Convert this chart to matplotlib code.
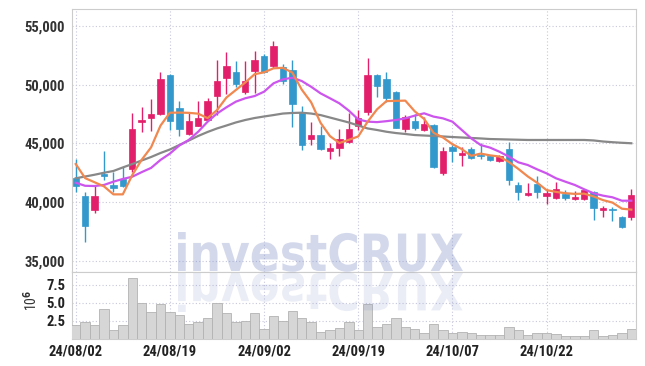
import numpy as np
import matplotlib
matplotlib.use('Agg')
import matplotlib.pyplot as plt
from matplotlib.textpath import TextPath
from matplotlib.patches import PathPatch
from matplotlib.font_manager import FontProperties, fontManager
from matplotlib.transforms import Affine2D, IdentityTransform

# daily candles, 24/08/02 .. 24/11/05 (60 trading days)
opens = [42100, 40500, 39300, 42400, 41500, 42000, 42800, 46850, 47200, 47500,
         50800, 48000, 45800, 46500, 47000, 49050, 50600, 51100, 49400, 51200,
         52450, 51600, 51500, 51250, 47700, 45400, 45700, 44400, 44650, 45150,
         46500, 47700, 50850, 50500, 49400, 46200, 46900, 46150, 46550, 42500,
         44700, 44000, 44500, 44000, 43950, 43500, 44550, 41450, 40650, 41550,
         40550, 40400, 40700, 40300, 40300, 40850, 39300, 39450, 38700, 38700]
closes = [41400, 38000, 40500, 42200, 41250, 41400, 46200, 47000, 47500, 50500,
          46900, 46250, 46900, 47150, 48600, 50300, 51600, 50100, 50350, 52150,
          51100, 53300, 50300, 48350, 44900, 45700, 44550, 44650, 45400, 46250,
          47150, 50850, 49900, 48900, 46350, 47250, 46300, 46650, 43000, 44350,
          44400, 44200, 43800, 43950, 43600, 43900, 41850, 40900, 40750, 40900,
          40750, 41100, 40350, 40450, 41000, 39550, 39550, 39300, 37850, 40600]
highs = [43700, 40900, 41500, 44400, 42600, 43000, 47600, 48100, 48800, 51100,
         50900, 48650, 47600, 48650, 48850, 52100, 52750, 52000, 52000, 52900,
         52600, 53750, 51800, 52150, 48200, 46800, 46450, 45000, 46200, 47600,
         47850, 52250, 50900, 51050, 49500, 47400, 47500, 47250, 46650, 44700,
         44900, 44700, 44700, 45000, 44000, 44000, 45100, 41750, 41600, 42250,
         41150, 41750, 41000, 40950, 41050, 40950, 39700, 39600, 38800, 41150]
lows = [40900, 36600, 39100, 41900, 40900, 41300, 42600, 46000, 46100, 47450,
        46150, 45600, 45700, 46450, 46950, 47400, 49200, 49800, 49250, 49300,
        51000, 51450, 50100, 46400, 44450, 44850, 44450, 43650, 43950, 45000,
        46150, 47400, 49000, 48550, 46300, 46000, 46150, 46100, 42950, 42300,
        43450, 43100, 43650, 43700, 43500, 43450, 41450, 40200, 40500, 40400,
        39850, 40250, 40150, 40150, 40150, 38500, 38700, 38400, 37800, 38500]
# volume in millions
volume = [2.0, 2.3, 2.0, 4.2, 1.3, 2.0, 8.4, 5.0, 3.7, 4.8,
          3.7, 3.3, 2.1, 2.4, 2.9, 5.0, 3.6, 2.4, 2.5, 3.6,
          1.4, 3.2, 2.5, 3.9, 2.9, 2.3, 1.0, 1.3, 1.5, 2.3,
          1.3, 4.8, 1.6, 2.1, 2.9, 1.7, 1.4, 0.8, 2.1, 1.2,
          0.9, 1.0, 0.8, 0.6, 0.6, 0.6, 1.7, 1.2, 0.6, 0.9,
          0.8, 0.7, 0.4, 0.4, 0.4, 1.3, 0.4, 0.6, 0.8, 1.4]
# moving averages as drawn
ma5 = [43250, 42050, 41700, 41350, 40670, 40670, 42310, 43610, 44670, 46520,
       47620, 47630, 47610, 47540, 47160, 47840, 48910, 49550, 50190, 50900,
       51060, 51400, 51440, 51040, 49590, 48510, 46760, 45630, 45040, 45310,
       45600, 46860, 47910, 48610, 48630, 48650, 47740, 47090, 45910, 45510,
       44940, 44520, 43950, 44140, 43990, 43890, 43420, 42840, 42200, 41660,
       41030, 40880, 40770, 40710, 40730, 40490, 40180, 39970, 39450, 39370]
ma20 = [41660, 41400, 41380, 41470, 41750, 41980, 42170, 42560, 42920, 43600,
        44140, 44830, 45300, 46000, 46850, 47550, 48080, 48560, 48850, 49040,
        49410, 50120, 50460, 50600, 50320, 49830, 49270, 48850, 48420, 47800,
        47050, 46860, 46820, 46900, 47000, 47140, 47370, 47570, 47290, 47140,
        46860, 46150, 45440, 44870, 44650, 44300, 43880, 43400, 43170, 42800,
        42460, 42040, 41750, 41470, 41100, 40760, 40560, 40420, 40130, 40130]
ma60 = [42040, 42190, 42340, 42510, 42660, 42960, 43250, 43550, 43850, 44190,
        44490, 44870, 45250, 45640, 45980, 46280, 46530, 46790, 47000, 47170,
        47300, 47420, 47550, 47600, 47620, 47550, 47420, 47210, 47000, 46790,
        46530, 46280, 46150, 46000, 45890, 45810, 45720, 45680, 45640, 45600,
        45550, 45510, 45470, 45430, 45380, 45360, 45340, 45320, 45300, 45300,
        45300, 45300, 45300, 45300, 45300, 45260, 45170, 45110, 45060, 45020]

tick_pos = [0, 10, 20, 30, 40, 50]
tick_labels = ['24/08/02', '24/08/19', '24/09/02', '24/09/19', '24/10/07', '24/10/22']
price_ticks = [35000, 40000, 45000, 50000, 55000]
vol_ticks = [2.5, 5.0, 7.5]

# narrow face for the axis text if one is around
names = {f.name for f in fontManager.ttflist}
narrow = [n for n in ['Liberation Sans Narrow', 'Roboto Condensed', 'Open Sans Condensed'] if n in names]
plt.rcParams['font.family'] = narrow + ['DejaVu Sans']
plt.rcParams['font.stretch'] = 'condensed'
plt.rcParams['font.weight'] = 'bold'
plt.rcParams['font.size'] = 10

W, H = 645, 366
fig = plt.figure(figsize=(W / 100, H / 100), dpi=100)
grid_kw = dict(color='#c8c8dc', linestyle=(0, (1, 2)), linewidth=0.8)
spine_c = '#cccccc'

ax = fig.add_axes([71.5 / W, (H - 272) / H, (636 - 71.5) / W, (272 - 9) / H])
axv = fig.add_axes([71.5 / W, (H - 339) / H, (636 - 71.5) / W, (339 - 272) / H], sharex=ax)

x = np.arange(len(closes))
o = np.array(opens)
c = np.array(closes)
up = c >= o
col = np.where(up, '#e21f6b', '#3399cc')

ax.vlines(x, lows, highs, colors=col, linewidth=1.0, zorder=3)
body_lo = np.minimum(o, c)
body_h = np.maximum(np.abs(c - o), 60)
ax.bar(x, body_h, bottom=body_lo, width=0.68, color=col, edgecolor=col, linewidth=0.5, zorder=4)

ax.plot(x, ma60, color='#888888', linewidth=1.6, zorder=5)
ax.plot(x, ma20, color='#cc55ee', linewidth=1.6, zorder=5)
ax.plot(x, ma5, color='#f0884f', linewidth=1.6, zorder=5)

ax.set_xlim(-0.45, 59.5)
ax.set_ylim(34060, 56450)
ax.set_yticks(price_ticks)
ax.set_yticklabels([f'{v:,}' for v in price_ticks])
ax.set_xticks(tick_pos)
ax.tick_params(axis='x', labelbottom=False, length=0)
ax.tick_params(axis='y', length=0, pad=4.5, labelcolor='#333333', labelsize=10.5)
ax.grid(True, **grid_kw)
ax.set_axisbelow(True)
for s in ax.spines.values():
    s.set_color(spine_c)

axv.bar(x, volume, width=1.0, color='#d6d6d6', edgecolor='#b2b2b2', linewidth=0.6, zorder=3)
axv.set_ylim(0, 9.3)
axv.set_yticks(vol_ticks)
axv.set_yticklabels([f'{v:.1f}' for v in vol_ticks])
axv.set_xticks(tick_pos)
axv.set_xticklabels(tick_labels)
axv.tick_params(length=0, labelcolor='#222222', labelsize=10.5)
axv.tick_params(axis='x', pad=4)
axv.tick_params(axis='y', pad=4.5)
axv.grid(True, **grid_kw)
axv.set_axisbelow(True)
for s in axv.spines.values():
    s.set_color(spine_c)
fig.text(31 / W, 1 - 300 / H, '10$^6$', rotation=90, ha='center', va='center',
         color='#333333', fontsize=10, fontweight='normal')

# watermark + reflection
tp = TextPath((0, 0), 'investCRUX', size=100,
              prop=FontProperties(family='DejaVu Sans', weight='bold', stretch='normal'))
ext = tp.get_extents()
sx = 285 / ext.width
sy = 39 / ext.y1
base = H - 272
tr = Affine2D().translate(-ext.x0, 0).scale(sx, sy).translate(178, base + 1)
fig.patches.append(PathPatch(tr.transform_path(tp), transform=IdentityTransform(),
                             facecolor='#8291c8', edgecolor='none', alpha=0.35, zorder=10))
tr2 = Affine2D().translate(-ext.x0, 0).scale(sx, -sy).translate(178, base - 1)
fig.patches.append(PathPatch(tr2.transform_path(tp), transform=IdentityTransform(),
                             facecolor='#8291c8', edgecolor='none', alpha=0.16, zorder=10))

fig.savefig('out.png', dpi=100)
